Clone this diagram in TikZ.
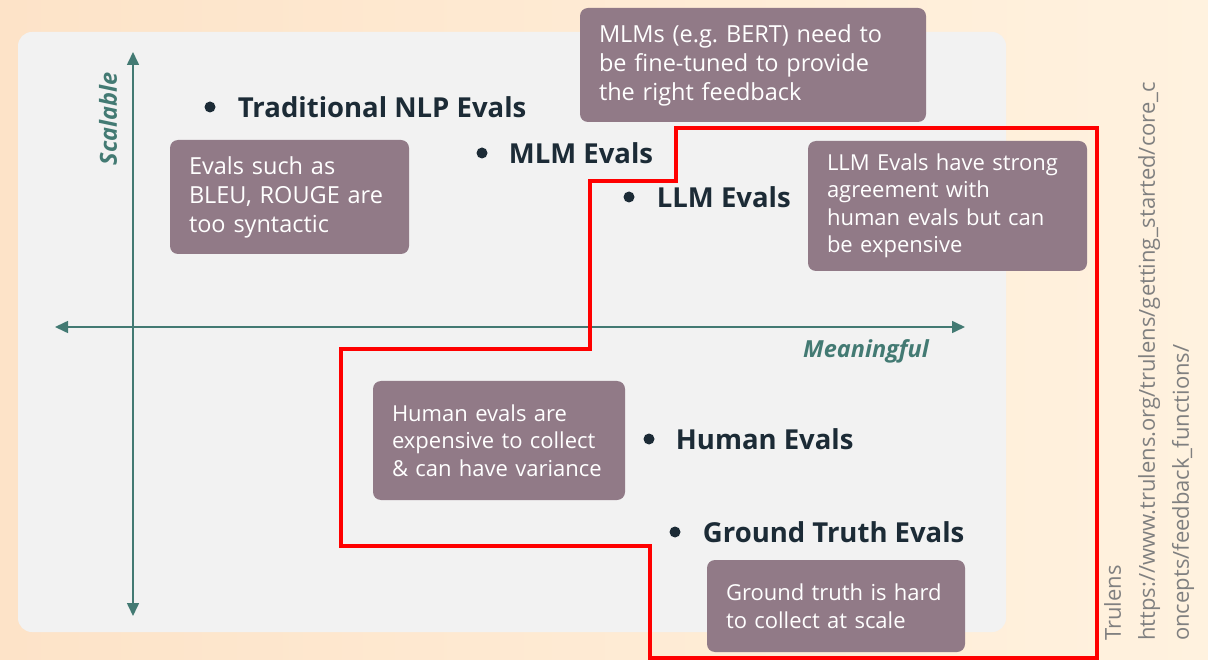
\documentclass[tikz,border=0pt]{standalone}
\usepackage{fontspec}
\setmainfont{Open Sans}
\usetikzlibrary{arrows.meta,positioning}
\definecolor{peachL}{HTML}{FDE3C8}
\definecolor{peachR}{HTML}{FFF2DF}
\definecolor{panel}{HTML}{F2F2F2}
\definecolor{notec}{HTML}{917A87}
\definecolor{axisc}{HTML}{437A73}
\definecolor{ink}{HTML}{1C2B36}
\definecolor{srcc}{HTML}{808080}
\tikzset{
  note/.style={fill=notec,rounded corners=8pt,text=white,align=left,
    inner xsep=19pt,inner ysep=0pt,font=\fontsize{22}{27.5}\selectfont},
  bignote/.style={note,font=\fontsize{23.5}{29}\selectfont},
  dot/.style={circle,fill=ink,inner sep=0pt,minimum size=11pt},
  evals/.style={text=ink,inner sep=0pt,font=\fontsize{27.5}{30}\selectfont\bfseries},
  axlab/.style={text=axisc,inner sep=0pt,font=\fontsize{23.5}{26}\selectfont\bfseries\itshape}
}
\begin{document}
\begin{tikzpicture}[x=1pt,y=-1pt,>={Triangle[length=13pt,width=12pt]}]
    \def\mx{55} \def\max{965}
    \def\my{52} \def\may{616}
    \def\ox{133} \def\oy{327}
    \useasboundingbox (0,0) rectangle (1208,660);
    \shade[left color=peachL,right color=peachR] (0,0) rectangle (1208,660);
    \fill[panel,rounded corners=14pt] (18,32) rectangle (1006,632);
    %===========================================
    \draw[<->,axisc,line width=1.6pt] (\mx,\oy)--(\max,\oy);
    \draw[<->,axisc,line width=1.6pt] (\ox,\may)--(\ox,\my);
    \node[axlab,rotate=90] (scal) at (108,119) {Scalable};
    \node[axlab] (mean) at (866,351) {Meaningful};
    %===========================================
    \node[dot] (d1) at (210,107) {};
    \node[evals,right=22pt of d1] (trad) {Traditional NLP Evals};
    \node[dot] (d2) at (482,153) {};
    \node[evals,right=21pt of d2] (mlm) {MLM Evals};
    \node[dot] (d3) at (629,197) {};
    \node[evals,right=22pt of d3] (llm) {LLM Evals};
    \node[dot] (d4) at (649,439) {};
    \node[evals,right=21pt of d4] (human) {Human Evals};
    \node[dot] (d5) at (675,532) {};
    \node[evals,right=22pt of d5] (truth) {Ground Truth Evals};
    %===========================================
    \node[bignote,text width=201pt,minimum height=114pt] (bleu) at (289.5,197)
        {Evals such as\\ BLEU, ROUGE are\\ too syntactic};
    \node[bignote,text width=308pt,minimum height=114pt] (bert) at (753,65)
        {MLMs (e.g.\ BERT) need to\\ be fine-tuned to provide\\ the right feedback};
    \node[note,text width=241pt,minimum height=130pt] (agree) at (947.5,206)
        {LLM Evals have strong\\ agreement with\\ human evals but can\\ be expensive};
    \node[note,text width=214pt,minimum height=119pt] (cost) at (499,440.5)
        {Human evals are\\ expensive to collect\\ \& can have variance};
    \node[note,text width=220pt,minimum height=92pt] (hard) at (836,606)
        {Ground truth is hard\\ to collect at scale};
    %===========================================
    \draw[red,line width=3.2pt] (650,658)--(650,546)--(341,546)--(341,349)--(590,349)
        --(590,181)--(676,181)--(676,128)--(1097,128)--(1097,658)--cycle;
    \node[rotate=90,anchor=north west,align=left,text=srcc,inner sep=0pt,
        font=\fontsize{22}{34}\selectfont] (src) at (1104,641)
        {Trulens\\ https://www.trulens.org/trulens/getting\_started/core\_c\\ oncepts/feedback\_functions/};
\end{tikzpicture}
\end{document}
